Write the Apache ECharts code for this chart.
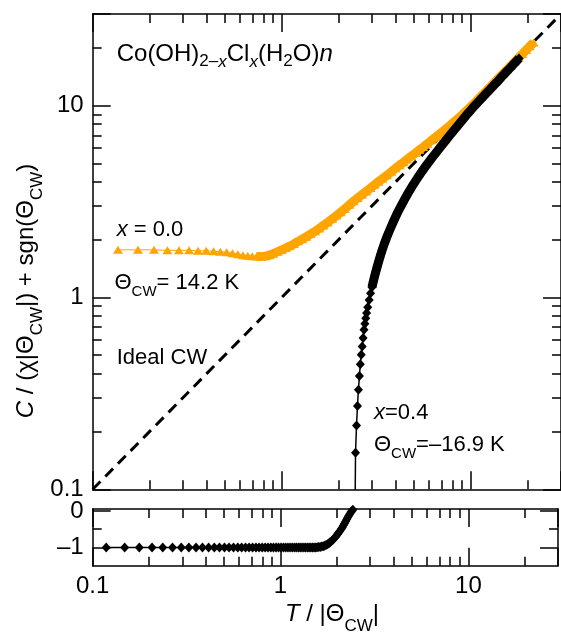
<!DOCTYPE html>
<html><head><meta charset="utf-8">
<script src="https://cdn.jsdelivr.net/npm/echarts@6/dist/echarts.min.js"></script>
<style>html,body{margin:0;padding:0;background:#fff}#c{width:561px;height:633px}</style>
</head><body><div id="c"></div>
<script>
// ---------------- data ----------------
const logMin = 0.1, logMax = 30;
const lowerMin = -1.5, lowerMax = 0.055;
const majorLogTicks = [0.1, 1, 10];
const majorLogLabels = ['0.1', '1', '10'];
const minorLogTicks = [0.2, 0.3, 0.4, 0.5, 0.6, 0.7, 0.8, 0.9, 2, 3, 4, 5, 6, 7, 8, 9, 20];
const lowerTickValues = [-1, 0];
const lowerTickLabels = ['\u20131', '0'];
const lowerMinorTicks = [-0.5];

const idealX = [0.1, 30];
const idealY = [0.1, 30];

// x = 0.0 (orange triangles)
const orangeX = [0.136, 0.1735, 0.211, 0.2485, 0.286, 0.3235, 0.361, 0.3985, 0.436, 0.4735, 0.511, 0.5485, 0.586, 0.6235, 0.661, 0.6985, 0.736, 0.78, 0.82, 0.86, 0.9, 0.95, 1.0, 1.05, 1.1, 1.16, 1.22, 1.28, 1.35, 1.42, 1.5, 1.58, 1.66, 1.75, 1.85, 1.95, 2.05, 2.16, 2.28, 2.4, 2.52, 2.65, 2.8, 2.95, 3.1, 3.25, 3.4, 3.6, 3.8, 4.0, 4.2, 4.4, 4.6, 4.85, 5.1, 5.35, 5.6, 5.9, 6.2, 6.5, 6.8, 7.1, 7.5, 7.9, 8.3, 8.7, 9.1, 9.6, 10.1, 10.6, 11.1, 11.7, 12.3, 12.9, 13.5, 14.2, 14.9, 15.6, 16.3, 17.1, 17.9, 18.7, 19.6, 20.5, 21.5];
const orangeY = [1.77, 1.77, 1.77, 1.76, 1.76, 1.76, 1.75, 1.75, 1.74, 1.73, 1.72, 1.70, 1.68, 1.66, 1.65, 1.64, 1.635, 1.635, 1.64, 1.66, 1.69, 1.73, 1.77, 1.81, 1.85, 1.90, 1.96, 2.01, 2.07, 2.14, 2.21, 2.29, 2.37, 2.46, 2.57, 2.67, 2.78, 2.90, 3.04, 3.17, 3.30, 3.43, 3.57, 3.72, 3.87, 4.01, 4.15, 4.33, 4.52, 4.71, 4.89, 5.06, 5.24, 5.45, 5.66, 5.88, 6.08, 6.33, 6.59, 6.84, 7.08, 7.33, 7.65, 7.99, 8.33, 8.68, 9.04, 9.5, 9.98, 10.45, 10.95, 11.55, 12.15, 12.75, 13.35, 14.05, 14.75, 15.45, 16.15, 16.95, 17.75, 18.55, 19.45, 20.35, 21.3];

// x = 0.4 (black diamonds)
const blackX = [0.118, 0.148, 0.177, 0.207, 0.236, 0.266, 0.296, 0.325, 0.355, 0.384, 0.414, 0.444, 0.473, 0.503, 0.532, 0.562, 0.592, 0.621, 0.651, 0.680, 0.710, 0.740, 0.769, 0.799, 0.828, 0.858, 0.888, 0.917, 0.947, 0.976, 1.006, 1.036, 1.065, 1.095, 1.124, 1.154, 1.184, 1.213, 1.243, 1.272, 1.302, 1.332, 1.361, 1.391, 1.420, 1.450, 1.480, 1.509, 1.539, 1.568, 1.598, 1.628, 1.657, 1.687, 1.716, 1.746, 1.776, 1.805, 1.835, 1.864, 1.894, 1.924, 1.953, 1.983, 2.012, 2.042, 2.072, 2.101, 2.131, 2.160, 2.190, 2.220, 2.249, 2.279, 2.308, 2.338, 2.368, 2.397, 2.427,
  2.456, 2.486, 2.515, 2.545, 2.575, 2.604, 2.634, 2.664, 2.693, 2.723, 2.752, 2.782, 2.812,
  2.85, 2.9, 2.95, 3.0, 3.05, 3.1, 3.15, 3.2, 3.25, 3.3, 3.35, 3.4, 3.45, 3.5, 3.55, 3.6,
  3.7, 3.8, 3.9, 4.0, 4.1, 4.2, 4.3, 4.4, 4.5, 4.6, 4.7, 4.8, 4.9, 5.0, 5.1, 5.2, 5.3, 5.4, 5.5, 5.6, 5.7, 5.8, 5.9, 6.0,
  6.25, 6.5, 6.75, 7.0, 7.25, 7.5, 7.75, 8.0, 8.25, 8.5, 8.75, 9.0, 9.25, 9.5, 9.75, 10,
  10.5, 11, 11.5, 12, 12.5, 13, 13.5, 14, 14.5, 15, 15.5, 16, 16.5, 17, 17.5, 18];
const blackY = [-1, -1, -1, -1, -1, -1, -1, -1, -1, -1, -1, -1, -1, -1, -1, -1, -1, -1, -1, -1, -1, -1, -1, -1, -1, -1, -1, -1, -1, -1, -1, -1, -1, -1, -1, -1, -1, -1, -1, -1, -1, -1, -1, -1, -1, -1, -1, -1, -1,
  -0.995, -0.99, -0.985, -0.975, -0.965, -0.95, -0.935, -0.915, -0.89, -0.86, -0.83, -0.795, -0.76, -0.72, -0.68, -0.635, -0.59, -0.545, -0.5, -0.45, -0.40, -0.345, -0.29, -0.235, -0.18, -0.13, -0.08, -0.035, 0.0, 0.035,
  0.155, 0.215, 0.272, 0.33, 0.39, 0.449, 0.502, 0.555, 0.614, 0.678, 0.729, 0.78, 0.829,
  0.89, 0.97, 1.05, 1.13, 1.21, 1.29, 1.37, 1.45, 1.53, 1.61, 1.69, 1.77, 1.845, 1.92, 1.995, 2.07,
  2.21, 2.35, 2.49, 2.63, 2.77, 2.9, 3.03, 3.16, 3.29, 3.42, 3.55, 3.67, 3.8, 3.92, 4.04, 4.16, 4.28, 4.4, 4.52, 4.63, 4.74, 4.86, 4.97, 5.08,
  5.36, 5.63, 5.9, 6.18, 6.45, 6.72, 7.0, 7.27, 7.55, 7.82, 8.1, 8.37, 8.65, 8.93, 9.2, 9.47,
  10.0, 10.5, 11.0, 11.5, 12.0, 12.5, 13.0, 13.5, 14.05, 14.55, 15.05, 15.55, 16.05, 16.6, 17.1, 17.6];
const lowerPanelXMax = 2.43;
const orangeDenseFrom = 0.72;   // where the orange markers merge into a band
const blackDenseFrom = 3.0;     // where the black markers merge into a band

// ---------------- chart ----------------
const FONT = "'Liberation Sans', Arial, Helvetica, sans-serif";
const AX = { color: '#000', width: 1.5 };

function fmt(values, labels) {
  return function (v) {
    for (let i = 0; i < values.length; i++) {
      if (Math.abs(v - values[i]) < 1e-6 * Math.max(1, Math.abs(values[i]))) return labels[i];
    }
    return '';
  };
}
function logAxis(grid, pos, showLabel) {
  return {
    type: 'log', logBase: 10, gridIndex: grid, position: pos, min: logMin, max: logMax,
    axisLine: { show: true, onZero: false, lineStyle: AX },
    axisTick: { show: true, inside: true, length: 18, lineStyle: AX },
    minorTick: { show: false }, splitLine: { show: false }, minorSplitLine: { show: false },
    axisLabel: {
      show: showLabel, margin: 9, fontFamily: FONT, fontSize: 24, color: '#000',
      showMinLabel: true, showMaxLabel: true, formatter: fmt(majorLogTicks, majorLogLabels)
    }
  };
}
function minorLogAxis(grid, pos) {
  return {
    type: 'value', gridIndex: grid, position: pos,
    min: Math.log10(logMin), max: Math.log10(logMax),
    axisLine: { show: false, onZero: false },
    axisTick: { show: true, inside: true, length: 9, lineStyle: AX,
      customValues: minorLogTicks.map(function (v) { return Math.log10(v); }) },
    axisLabel: { show: false }, splitLine: { show: false }
  };
}
function lowerAxis(pos, showLabel) {
  return {
    type: 'value', gridIndex: 1, position: pos, min: lowerMin, max: lowerMax,
    axisLine: { show: true, onZero: false, lineStyle: AX },
    axisTick: { show: true, inside: true, length: 18, lineStyle: AX, customValues: lowerTickValues },
    axisLabel: { show: showLabel, margin: 9, fontFamily: FONT, fontSize: 24, color: '#000',
      customValues: lowerTickValues, formatter: fmt(lowerTickValues, lowerTickLabels) },
    splitLine: { show: false }
  };
}
function lowerMinorAxis(pos) {
  return {
    type: 'value', gridIndex: 1, position: pos, min: lowerMin, max: lowerMax,
    axisLine: { show: false, onZero: false },
    axisTick: { show: true, inside: true, length: 9, lineStyle: AX, customValues: lowerMinorTicks },
    axisLabel: { show: false }, splitLine: { show: false }
  };
}

function pairs(xs, ys, keep) {
  const out = [];
  for (let i = 0; i < xs.length; i++) if (!keep || keep(xs[i], ys[i])) out.push([xs[i], ys[i]]);
  return out;
}

// rich text: main tokens raised by padding-bottom P so subscripts sit lower
function richSet(fs, sfs, P) {
  const L = fs + P + 2;
  const base = { fontFamily: FONT, verticalAlign: 'bottom', fill: '#000', lineHeight: L };
  return {
    r: Object.assign({}, base, { fontSize: fs, padding: [0, 0, P, 0] }),
    i: Object.assign({}, base, { fontSize: fs, padding: [0, 0, P, 0], fontStyle: 'italic' }),
    s: Object.assign({}, base, { fontSize: sfs }),
    si: Object.assign({}, base, { fontSize: sfs, fontStyle: 'italic' })
  };
}
const annRich = richSet(22, 15, 5);
const formRich = richSet(24, 17, 4);
const titleRich = richSet(24, 17, 8);

function txt(x, y, text, rich, align) {
  return { type: 'text', x: x, y: y, silent: true, z: 100,
    style: { text: text, rich: rich, align: align || 'left', verticalAlign: 'top', fontFamily: FONT } };
}

const option = {
  animation: false,
  backgroundColor: '#fff',
  grid: [
    { left: 92.7, top: 14, width: 474.3, height: 475.3 },
    { left: 92.7, top: 509, width: 474.3, height: 56.7 }
  ],
  xAxis: [
    logAxis(0, 'bottom', false), logAxis(0, 'top', false), minorLogAxis(0, 'bottom'), minorLogAxis(0, 'top'),
    logAxis(1, 'bottom', true), logAxis(1, 'top', false), minorLogAxis(1, 'bottom'), minorLogAxis(1, 'top')
  ],
  yAxis: [
    logAxis(0, 'left', true), logAxis(0, 'right', false), minorLogAxis(0, 'left'), minorLogAxis(0, 'right'),
    lowerAxis('left', true), lowerAxis('right', false), lowerMinorAxis('left'), lowerMinorAxis('right')
  ],
  series: [
    { type: 'line', xAxisIndex: 0, yAxisIndex: 0, data: pairs(idealX, idealY), symbol: 'none', silent: true,
      lineStyle: { color: '#000', width: 3, type: [11, 7] }, z: 1 },
    { type: 'line', xAxisIndex: 0, yAxisIndex: 0, data: pairs(orangeX, orangeY, function (x) { return x >= orangeDenseFrom; }),
      symbol: 'none', silent: true, lineStyle: { color: '#ffa500', width: 9, cap: 'butt', join: 'round' }, z: 2 },
    { type: 'line', xAxisIndex: 0, yAxisIndex: 0, data: pairs(orangeX, orangeY), symbol: 'triangle', symbolSize: [10, 8],
      silent: true, itemStyle: { color: '#ffa500' }, lineStyle: { color: '#ffa500', width: 1 }, z: 3 },
    { type: 'line', xAxisIndex: 0, yAxisIndex: 0, data: pairs(blackX, blackY, function (x, y) { return x >= blackDenseFrom; }),
      symbol: 'none', silent: true, lineStyle: { color: '#000', width: 9, cap: 'butt', join: 'round' }, z: 4 },
    { type: 'line', xAxisIndex: 0, yAxisIndex: 0, data: pairs(blackX, blackY, function (x, y) { return y > 0; }),
      symbol: 'diamond', symbolSize: [9, 10], silent: true,
      itemStyle: { color: '#000' }, lineStyle: { color: '#000', width: 1.5 }, z: 5 },
    { type: 'line', xAxisIndex: 4, yAxisIndex: 4, data: pairs(blackX, blackY, function (x, y) { return x <= lowerPanelXMax; }),
      symbol: 'diamond', symbolSize: [9, 10], silent: true,
      itemStyle: { color: '#000' }, lineStyle: { color: '#000', width: 1.5 }, z: 5 }
  ],
  graphic: [
    txt(116.7, 40.3, '{r|Co(OH)}{s|2\u2013}{si|x}{r|Cl}{si|x}{r|(H}{s|2}{r|O)}{i|n}', formRich),
    txt(116.7, 216.8, '{i|x}{r| = 0.0}', annRich),
    txt(114.5, 270, '{r|\u0398}{s|CW}{r|= 14.2 K}', annRich),
    txt(116.7, 345, '{r|Ideal CW}', annRich),
    txt(374, 400, '{i|x}{r|=0.4}', annRich),
    txt(374, 432, '{r|\u0398}{s|CW}{r|=\u201316.9 K}', annRich),
    txt(332, 600.6, '{i|T}{r| / |\u0398}{s|CW}{r||}', titleRich, 'center'),
    { type: 'text', x: 11.9, y: 291, rotation: Math.PI / 2, silent: true, z: 100,
      style: { text: '{i|C}{r| / (\u03c7|\u0398}{s|CW}{r||) + sgn(\u0398}{s|CW}{r|)}', rich: titleRich, align: 'center', verticalAlign: 'top' } }
  ]
};

const chart = echarts.init(document.getElementById('c'), null, { renderer: 'canvas', width: 561, height: 633 });
chart.setOption(option);
</script>
</body></html>
